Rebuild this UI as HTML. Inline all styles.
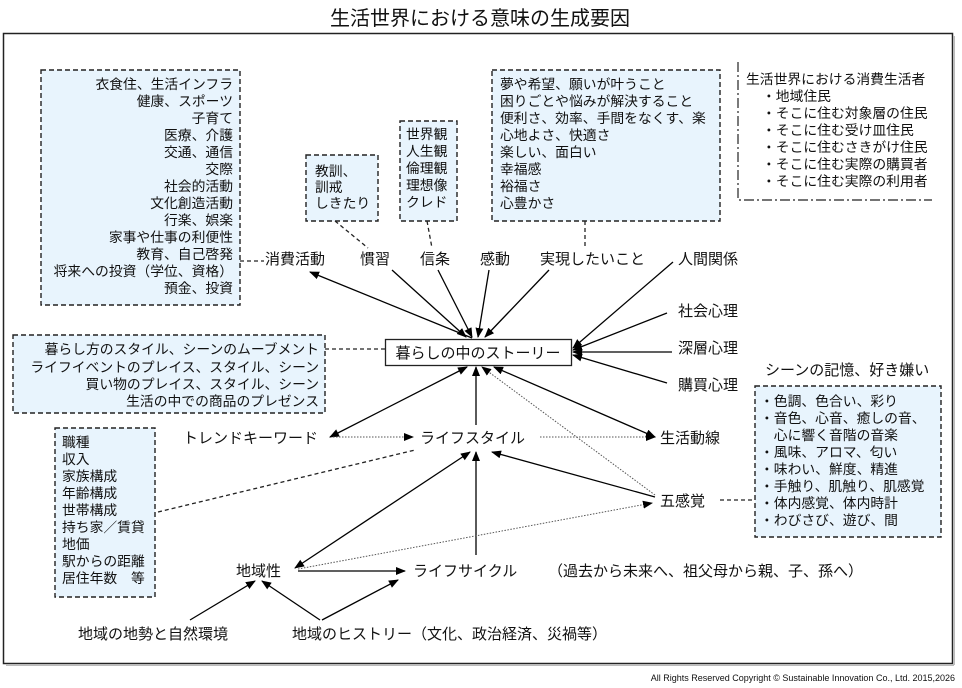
<!DOCTYPE html>
<html><head><meta charset="utf-8"><style>
body{margin:0;background:#fff}
svg{display:block}
text{font-family:"Liberation Sans","Noto Sans CJK JP",sans-serif;fill:#111}
</style></head><body>
<svg width="962" height="688" viewBox="0 0 962 688" xmlns="http://www.w3.org/2000/svg">
<defs>
<marker id="a" markerWidth="10" markerHeight="8" refX="9" refY="4" orient="auto" markerUnits="userSpaceOnUse"><path d="M0,0 L10,4 L0,8 z" fill="#000"/></marker>
<marker id="s" markerWidth="10" markerHeight="8" refX="1" refY="4" orient="auto" markerUnits="userSpaceOnUse"><path d="M10,0 L0,4 L10,8 z" fill="#000"/></marker>
</defs>
<text x="480" y="25" font-size="20" text-anchor="middle">生活世界における意味の生成要因</text>
<rect x="3.5" y="33.5" width="949" height="630" fill="none" stroke="#222" stroke-width="1.5"/>
<line x1="6" y1="665" x2="954" y2="665" stroke="#bbb" stroke-width="2"/>
<line x1="954" y1="36" x2="954" y2="665" stroke="#bbb" stroke-width="2"/>

<g stroke="#222" stroke-width="1.4" stroke-dasharray="5,3" fill="#e8f4fd">
<rect x="41" y="70" width="199" height="235"/>
<rect x="306" y="155" width="72" height="66"/>
<rect x="400" y="121" width="57" height="100"/>
<rect x="492" y="70" width="228" height="151"/>
<rect x="13" y="335" width="312" height="78"/>
<rect x="55" y="428" width="100" height="169"/>
<rect x="755" y="386" width="186" height="151"/>
</g>
<path d="M738,62 V200 H932" fill="none" stroke="#222" stroke-width="1.2" stroke-dasharray="10,3,2,3"/>

<g font-size="13.8" text-anchor="end">
<text x="233" y="89">衣食住、生活インフラ</text>
<text x="233" y="106">健康、スポーツ</text>
<text x="233" y="123">子育て</text>
<text x="233" y="140">医療、介護</text>
<text x="233" y="157">交通、通信</text>
<text x="233" y="174">交際</text>
<text x="233" y="191">社会的活動</text>
<text x="233" y="208">文化創造活動</text>
<text x="233" y="225">行楽、娯楽</text>
<text x="233" y="242">家事や仕事の利便性</text>
<text x="233" y="259">教育、自己啓発</text>
<text x="233" y="276">将来への投資（学位、資格）</text>
<text x="233" y="293">預金、投資</text>
<text x="319" y="354">暮らし方のスタイル、シーンのムーブメント</text>
<text x="319" y="372">ライフイベントのプレイス、スタイル、シーン</text>
<text x="319" y="389">買い物のプレイス、スタイル、シーン</text>
<text x="319" y="406">生活の中での商品のプレゼンス</text>
</g>
<g font-size="13.8">
<text x="315" y="176">教訓、</text><text x="315" y="192">訓戒</text><text x="315" y="208">しきたり</text>
<text x="406" y="139">世界観</text><text x="406" y="156">人生観</text><text x="406" y="173">倫理観</text><text x="406" y="190">理想像</text><text x="406" y="207">クレド</text>
<text x="500" y="89">夢や希望、願いが叶うこと</text>
<text x="500" y="106">困りごとや悩みが解決すること</text>
<text x="500" y="123">便利さ、効率、手間をなくす、楽</text>
<text x="500" y="140">心地よさ、快適さ</text>
<text x="500" y="157">楽しい、面白い</text>
<text x="500" y="174">幸福感</text>
<text x="500" y="191">裕福さ</text>
<text x="500" y="208">心豊かさ</text>
<text x="746" y="84">生活世界における消費生活者</text>
<text x="762" y="101">・地域住民</text>
<text x="762" y="118">・そこに住む対象層の住民</text>
<text x="762" y="135">・そこに住む受け皿住民</text>
<text x="762" y="152">・そこに住むさきがけ住民</text>
<text x="762" y="169">・そこに住む実際の購買者</text>
<text x="762" y="186">・そこに住む実際の利用者</text>
<text x="62" y="447">職種</text><text x="62" y="464">収入</text><text x="62" y="481">家族構成</text><text x="62" y="498">年齢構成</text><text x="62" y="515">世帯構成</text><text x="62" y="532">持ち家／賃貸</text><text x="62" y="549">地価</text><text x="62" y="566">駅からの距離</text><text x="62" y="583">居住年数　等</text>
<text x="760" y="406">・色調、色合い、彩り</text>
<text x="760" y="423">・音色、心音、癒しの音、</text>
<text x="760" y="440">　心に響く音階の音楽</text>
<text x="760" y="457">・風味、アロマ、匂い</text>
<text x="760" y="474">・味わい、鮮度、精進</text>
<text x="760" y="491">・手触り、肌触り、肌感覚</text>
<text x="760" y="508">・体内感覚、体内時計</text>
<text x="760" y="525">・わびさび、遊び、間</text>
</g>
<g font-size="15">
<text x="265" y="264">消費活動</text>
<text x="360" y="264">慣習</text>
<text x="420" y="264">信条</text>
<text x="480" y="264">感動</text>
<text x="540" y="264">実現したいこと</text>
<text x="678" y="264">人間関係</text>
<text x="678" y="316">社会心理</text>
<text x="678" y="353">深層心理</text>
<text x="678" y="390">購買心理</text>
<text x="765" y="375">シーンの記憶、好き嫌い</text>
<text x="183" y="443">トレンドキーワード</text>
<text x="420" y="443">ライフスタイル</text>
<text x="660" y="443">生活動線</text>
<text x="660" y="506">五感覚</text>
<text x="236" y="576">地域性</text>
<text x="413" y="576">ライフサイクル</text>
<text x="548" y="576">（過去から未来へ、祖父母から親、子、孫へ）</text>
<text x="78" y="639">地域の地勢と自然環境</text>
<text x="292" y="639">地域のヒストリー（文化、政治経済、災禍等）</text>
</g>
<rect x="385.5" y="339.5" width="186" height="26" fill="#fff" stroke="#222" stroke-width="1.3"/>
<text x="478" y="358" font-size="15" text-anchor="middle">暮らしの中のストーリー</text>
<text x="955" y="681" font-size="9" text-anchor="end">All Rights Reserved Copyright ©  Sustainable Innovation Co., Ltd.  2015,2026</text>

<g stroke="#222" stroke-width="1.3" stroke-dasharray="4,3" fill="none">
<line x1="240" y1="261" x2="264" y2="261"/>
<line x1="335" y1="221" x2="368" y2="248"/>
<line x1="427" y1="221" x2="432" y2="248"/>
<line x1="585" y1="221" x2="585" y2="248"/>
<line x1="325" y1="349" x2="385" y2="349"/>
<line x1="158" y1="512" x2="415" y2="450"/>
<line x1="720" y1="500" x2="755" y2="500"/>
</g>
<g stroke="#000" stroke-width="1.3" fill="none" marker-end="url(#a)">
<line x1="472" y1="338" x2="310" y2="272"/>
<line x1="392" y1="270" x2="466" y2="337"/>
<line x1="438" y1="270" x2="472" y2="337"/>
<line x1="489" y1="270" x2="478" y2="337"/>
<line x1="549" y1="270" x2="485" y2="337"/>
<line x1="673" y1="262" x2="573" y2="348"/>
<line x1="667" y1="313" x2="573" y2="350"/>
<line x1="672" y1="352" x2="573" y2="352"/>
<line x1="667" y1="383" x2="573" y2="355"/>
<line x1="476" y1="425" x2="476" y2="367"/>
<line x1="330" y1="437" x2="467" y2="367" marker-start="url(#s)"/>
<line x1="655" y1="437" x2="494" y2="367" marker-start="url(#s)"/>
<line x1="655" y1="497" x2="492" y2="452"/>
<line x1="295" y1="568" x2="470" y2="452" marker-start="url(#s)"/>
<line x1="476" y1="555" x2="476" y2="452"/>
<line x1="298" y1="571" x2="405" y2="571"/>
<line x1="190" y1="620" x2="255" y2="581"/>
<line x1="320" y1="620" x2="262" y2="581"/>
<line x1="322" y1="620" x2="398" y2="580"/>
</g>
<g stroke="#555" stroke-width="1" stroke-dasharray="1.5,1.5" fill="none" marker-end="url(#a)">
<line x1="333" y1="437" x2="413" y2="437"/>
<line x1="540" y1="437" x2="655" y2="437"/>
<line x1="655" y1="495" x2="482" y2="367"/>
<line x1="298" y1="569" x2="652" y2="503"/>
</g>
</svg>
</body></html>
